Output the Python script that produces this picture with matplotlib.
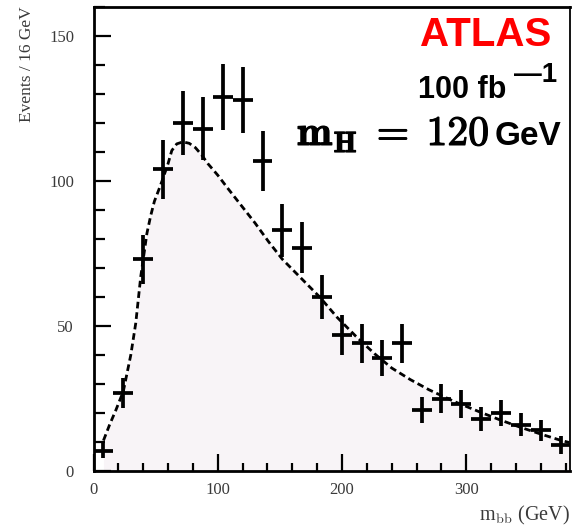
import matplotlib
matplotlib.use("Agg")
import matplotlib.pyplot as plt
import matplotlib.patheffects as pe
from matplotlib.ticker import MultipleLocator

# measured b-bbar mass spectrum (bin centres, 16 GeV bins)
mass = [8, 24, 40, 56, 72, 88, 104, 120, 136, 152, 168, 184,
        200, 216, 232, 248, 264, 280, 296, 312, 328, 344, 360, 376]
events = [7, 27, 73, 104, 120, 118, 129, 128, 107, 83, 77, 60,
          47, 44, 39, 44, 21, 25, 23, 18, 20, 16, 14, 9]
errors = [2.6, 5.2, 8.5, 10.2, 11.0, 10.9, 11.4, 11.3, 10.3, 9.1, 8.8, 7.7,
          6.9, 6.6, 6.2, 6.6, 4.6, 5.0, 4.8, 4.2, 4.5, 4.0, 3.7, 3.0]
half_bin = 8

# background shape
bkg_mass = [8, 13, 18, 24, 30, 34, 36, 38, 41, 43, 46, 49, 53, 56, 60, 63, 67, 72,
            77, 82, 87, 92, 100, 108, 119, 130, 141, 152, 167, 182, 196, 211,
            226, 240, 255, 270, 290, 310, 326, 342, 358, 375, 383]
bkg_events = [10.5, 16, 21, 27.5, 40, 51, 59, 67, 76, 82, 88, 93, 97.5, 101, 106, 110.5,
              112.8, 113.5, 113, 111.5, 109, 106, 102, 97.5, 91.5, 85.5, 79, 73,
              66.5, 60, 53, 46.5, 40.5, 35.5, 31.5, 28, 24, 20.5, 17.8, 15.3,
              13, 10.7, 9.8]

plt.rcParams['font.family'] = ['Liberation Serif', 'DejaVu Serif']
plt.rcParams['mathtext.fontset'] = 'cm'

fig = plt.figure(figsize=(5.73, 5.28), dpi=100)
ax = fig.add_axes([93.5 / 573, 57 / 528, 476 / 573, 464 / 528])

ax.fill_between(bkg_mass, bkg_events, 0, color='#f8f4f7', lw=0, zorder=1)
ax.plot(bkg_mass, bkg_events, color='black', lw=2.0, ls=(0, (2.4, 1.4)), zorder=2)
ax.errorbar(mass, events, yerr=errors, xerr=half_bin, fmt='none',
            ecolor='black', elinewidth=2.7, capsize=0, zorder=3)

ax.set_xlim(0, 383)
ax.set_ylim(0, 160)

ax.xaxis.set_major_locator(MultipleLocator(100))
ax.xaxis.set_minor_locator(MultipleLocator(20))
ax.yaxis.set_major_locator(MultipleLocator(50))
ax.yaxis.set_minor_locator(MultipleLocator(10))
ax.tick_params(which='both', direction='in', top=False, right=False,
               width=1.6, labelsize=12, labelcolor='#3a3a3a')
ax.tick_params(axis='y', which='major', length=12, pad=14)
ax.tick_params(axis='y', which='minor', length=8)
ax.tick_params(axis='x', which='major', length=12, pad=8)
ax.tick_params(axis='x', which='minor', length=6)

for side in ['left', 'top', 'bottom']:
    ax.spines[side].set_linewidth(2.0)
ax.spines['right'].set_linewidth(1.3)

fig.text(27 / 573, 1 - 64 / 528, 'Events / 16 GeV', rotation=90,
         ha='center', va='center', fontsize=12.5, color='#3a3a3a')
fig.text(570 / 573, 1 - 515 / 528, r'm$_{\rm bb}$ (GeV)',
         ha='right', va='center', fontsize=14.5, color='#3a3a3a')

sans = ['Liberation Sans', 'DejaVu Sans']
ax.text(368.5, 150.5, 'ATLAS', color='#ff0000', fontsize=29, fontweight='bold',
        family=sans, ha='right', va='center')
ax.text(332, 128.5, '100 fb', fontsize=22, fontweight='bold',
        family=sans, ha='right', va='baseline')
ax.text(338.5, 134, '\u20141', fontsize=20, fontweight='bold',
        family=sans, ha='left', va='baseline')
ax.text(318.5, 112.4, r'$\mathbf{m}_{\mathbf{H}}\;\mathbf{=}\;\mathbf{120}$',
        fontsize=30, ha='right', va='baseline',
        path_effects=[pe.withStroke(linewidth=0.9, foreground='black')])
ax.text(322.4, 112.4, 'GeV', fontsize=24, fontweight='bold',
        family=sans, ha='left', va='baseline')

fig.savefig('out.png', dpi=100, facecolor='white')
